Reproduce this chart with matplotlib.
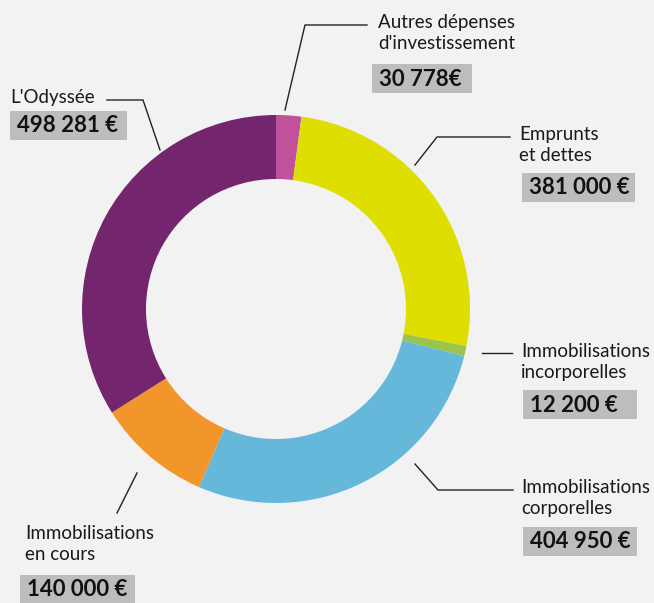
import matplotlib.pyplot as plt
from matplotlib.patches import Rectangle

# data
labels = ["Autres dépenses\nd'investissement", "Emprunts\net dettes",
          "Immobilisations\nincorporelles", "Immobilisations\ncorporelles",
          "Immobilisations\nen cours", "L'Odyssée"]
values = [30778, 381000, 12200, 404950, 140000, 498281]
value_txt = ["30 778€", "381 000 €", "12 200 €", "404 950 €", "140 000 €", "498 281 €"]
colors = ['#c1519b', '#dede00', '#9bc54a', '#65b8da', '#f2962b', '#73266d']

plt.rcParams['font.family'] = ['Lato', 'DejaVu Sans']

W, H = 654, 603
fig = plt.figure(figsize=(W / 100, H / 100), dpi=100)
fig.patch.set_facecolor('#f2f2f2')
ax = fig.add_axes([0, 0, 1, 1])
ax.set_facecolor('#f2f2f2')

# pixel coords, y pointing down -> counterclock in data = clockwise on screen
cx, cy, R = 276, 309, 194
ax.pie(values, colors=colors, startangle=270, counterclock=True,
       center=(cx, cy), radius=R,
       wedgeprops=dict(width=64, linewidth=0))
ax.set_xlim(0, W)
ax.set_ylim(H, 0)
ax.set_aspect('equal', adjustable='box')
ax.axis('off')

# label layout: (text x, text y center, box x, box y, box w, leader points)
layout = [
    (378, 33, 372, 64, 100, [(367, 25), (305, 25), (285, 110)]),
    (519, 145, 522, 173, 113, [(510, 137), (437, 137), (415, 165)]),
    (521, 362, 523, 390, 114, [(512, 353), (482, 353)]),
    (521, 498, 523, 527, 114, [(415, 464), (438, 490), (513, 490)]),
    (25, 544, 20, 575, 115, [(137, 473), (117, 513)]),
    (10, 98, 10, 111, 117, [(107, 100), (143, 100), (160, 150)]),
]

for lab, vt, (tx, ty, bx, by, bw, pts) in zip(labels, value_txt, layout):
    ax.text(tx, ty, lab, fontsize=13.5, color='#1a1a1a', va='center', ha='left',
            linespacing=1.3)
    ax.add_patch(Rectangle((bx, by), bw, 29, facecolor='#bdbdbd', edgecolor='none'))
    ax.text(bx + 7, by + 15, vt, fontsize=16, fontweight='bold', color='#111111',
            va='center', ha='left')
    xs = [p[0] for p in pts]
    ys = [p[1] for p in pts]
    ax.plot(xs, ys, color='#222222', linewidth=1.0)

fig.savefig('out.png', dpi=100, facecolor=fig.get_facecolor())
